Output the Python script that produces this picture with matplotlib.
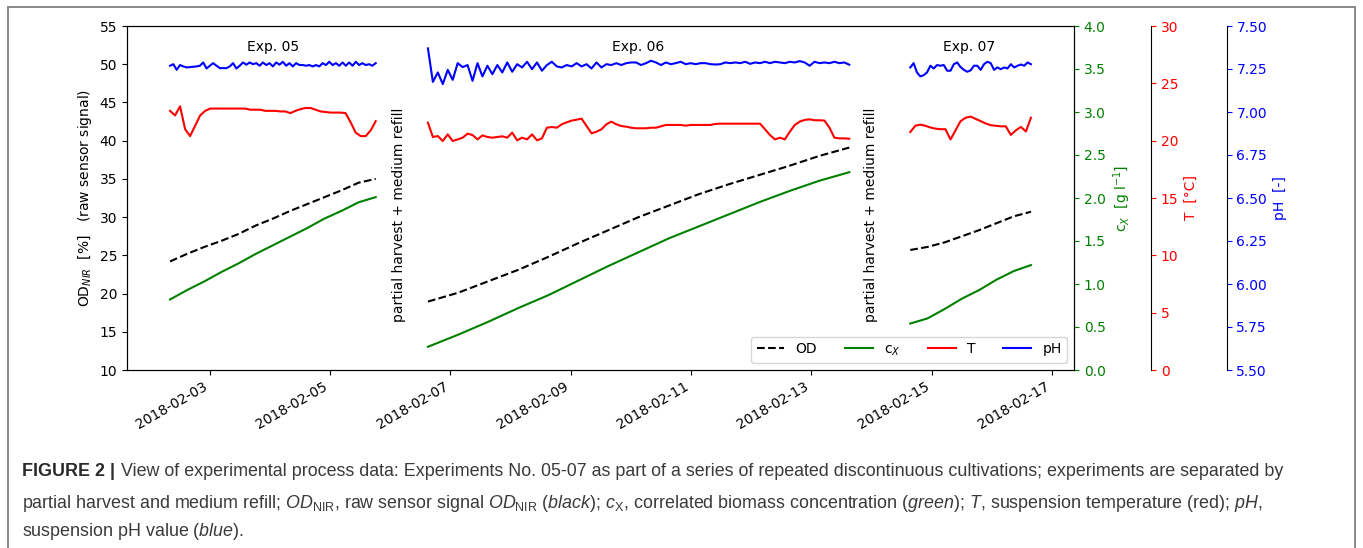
import numpy as np
import pandas as pd
import matplotlib
matplotlib.use('Agg')
import matplotlib.pyplot as plt
import matplotlib.dates as mdates
from matplotlib.patches import Rectangle
from matplotlib.ticker import FormatStrFormatter
from matplotlib.lines import Line2D

plt.rcParams['font.family'] = ['DejaVu Sans']
plt.rcParams['font.size'] = 10
plt.rcParams['mathtext.rm'] = 'Liberation Sans'
plt.rcParams['mathtext.it'] = 'Liberation Sans:italic'
plt.rcParams['mathtext.bf'] = 'Liberation Sans:bold'

# ---------------- data ----------------
exp_names = ['Exp. 05', 'Exp. 06', 'Exp. 07']
exp_start = ['2018-02-02 08:05', '2018-02-06 15:00', '2018-02-14 15:30']
exp_end = ['2018-02-05 18:10', '2018-02-13 15:10', '2018-02-16 15:40']
exp_label_time = ['2018-02-04 01:00', '2018-02-10 03:00', '2018-02-15 15:00']
refill_time = ['2018-02-06 03:20', '2018-02-14 00:00']
tick_dates = ['2018-02-03', '2018-02-05', '2018-02-07', '2018-02-09',
              '2018-02-11', '2018-02-13', '2018-02-15', '2018-02-17']

# OD_NIR raw sensor signal [%]
od_05 = [24.2, 25.2, 26.1, 26.9, 27.8, 28.9, 29.8, 30.8, 31.7, 32.6, 33.5, 34.5, 35.0]
od_06 = [18.95, 20.1, 21.6, 23.1, 24.8, 26.6, 28.3, 30.0, 31.5, 33.0, 34.3, 35.5,
         36.7, 38.0, 39.1]
od_07 = [25.7, 26.1, 26.7, 27.5, 28.3, 29.2, 30.1, 30.7]

# biomass concentration c_X [g/l]
cx_05 = [0.82, 0.93, 1.03, 1.14, 1.24, 1.35, 1.45, 1.55, 1.65, 1.76, 1.85, 1.95, 2.01]
cx_06 = [0.27, 0.41, 0.56, 0.72, 0.87, 1.04, 1.21, 1.37, 1.53, 1.67, 1.81, 1.95,
         2.08, 2.20, 2.30]
cx_07 = [0.54, 0.60, 0.71, 0.83, 0.93, 1.05, 1.15, 1.22]

# temperature T [degC]
t_05 = [22.6, 22.2, 23.0, 21.0, 20.4, 21.3, 22.2, 22.6, 22.8, 22.8,
        22.8, 22.8, 22.8, 22.8, 22.8, 22.8, 22.7, 22.7, 22.7, 22.6,
        22.6, 22.6, 22.55, 22.55, 22.4, 22.6, 22.75, 22.85, 22.85, 22.7,
        22.55, 22.5, 22.45, 22.45, 22.45, 22.4, 21.6, 20.7, 20.4, 20.4,
        20.9, 21.7]
t_06 = [21.57, 20.32, 20.40, 19.97, 20.55, 19.97, 20.11, 20.26, 20.61, 20.49,
        20.11, 20.46, 20.32, 20.26, 20.32, 20.38, 20.26, 20.70, 20.03, 20.26,
        20.11, 20.55, 20.03, 20.20, 21.13, 21.19, 21.13, 21.43, 21.60, 21.75,
        21.83, 21.92, 21.28, 20.64, 20.78, 20.99, 21.43, 21.66, 21.43, 21.28,
        21.22, 21.13, 21.08, 21.08, 21.08, 21.13, 21.13, 21.25, 21.37, 21.37,
        21.37, 21.37, 21.31, 21.37, 21.37, 21.37, 21.37, 21.37, 21.46, 21.48,
        21.48, 21.48, 21.48, 21.48, 21.48, 21.48, 21.48, 21.48, 20.99, 20.49,
        20.11, 20.26, 20.11, 20.78, 21.37, 21.66, 21.81, 21.86, 21.78, 21.78,
        21.75, 21.13, 20.26, 20.20, 20.20, 20.17]
t_07 = [20.75, 21.3, 21.4, 21.3, 21.15, 21.05, 21.0, 21.0, 20.1, 20.9,
        21.7, 22.0, 22.1, 21.9, 21.7, 21.5, 21.35, 21.3, 21.25, 21.25,
        20.5, 20.9, 21.2, 20.8, 22.0]

# pH [-]
ph_05 = [7.269, 7.278, 7.245, 7.273, 7.265, 7.259, 7.261, 7.263, 7.265, 7.269,
         7.288, 7.253, 7.269, 7.284, 7.269, 7.255, 7.255, 7.255, 7.265, 7.284,
         7.253, 7.269, 7.288, 7.275, 7.288, 7.278, 7.284, 7.269, 7.288, 7.273,
         7.284, 7.265, 7.288, 7.275, 7.292, 7.269, 7.284, 7.265, 7.284, 7.273,
         7.273, 7.269, 7.273, 7.265, 7.273, 7.265, 7.284, 7.273, 7.292, 7.273,
         7.284, 7.269, 7.288, 7.269, 7.288, 7.269, 7.292, 7.273, 7.284, 7.273,
         7.278, 7.269, 7.284]
ph_06 = [7.370, 7.175, 7.230, 7.162, 7.245, 7.187, 7.284, 7.261, 7.273, 7.181,
         7.284, 7.207, 7.269, 7.220, 7.273, 7.230, 7.288, 7.234, 7.278, 7.259,
         7.292, 7.249, 7.288, 7.240, 7.273, 7.292, 7.265, 7.259, 7.273, 7.265,
         7.284, 7.265, 7.278, 7.253, 7.288, 7.259, 7.278, 7.273, 7.284, 7.273,
         7.284, 7.288, 7.288,
         7.273, 7.284, 7.298, 7.288, 7.273, 7.288, 7.278, 7.284, 7.292, 7.278,
         7.284, 7.278, 7.284, 7.284, 7.278, 7.276, 7.278, 7.288, 7.284, 7.288,
         7.284, 7.292, 7.280, 7.288, 7.284, 7.292, 7.284, 7.292, 7.288, 7.284,
         7.292, 7.288, 7.296, 7.288, 7.269, 7.292, 7.284, 7.288, 7.284, 7.292,
         7.284, 7.288, 7.275]
ph_07 = [7.259, 7.284, 7.230, 7.207, 7.214, 7.230, 7.269, 7.253, 7.273, 7.269,
         7.273, 7.240, 7.240, 7.278, 7.288, 7.261, 7.245, 7.234, 7.242, 7.269,
         7.269, 7.245, 7.278, 7.292, 7.284, 7.245, 7.259, 7.249, 7.259, 7.253,
         7.278, 7.259, 7.269, 7.276, 7.269, 7.288, 7.278]

od_series = [od_05, od_06, od_07]
cx_series = [cx_05, cx_06, cx_07]
t_series = [t_05, t_06, t_07]
ph_series = [ph_05, ph_06, ph_07]

caption_bold = 'FIGURE 2 |'
caption_1 = ('View of experimental process data: Experiments No. 05-07 as part of a series of '
             'repeated discontinuous cultivations; experiments are separated by')
caption_2 = (r'partial harvest and medium refill; $\mathit{OD}_{\mathrm{NIR}}$, raw sensor signal '
             r'$\mathit{OD}_{\mathrm{NIR}}$ ($\mathit{black}$); $\mathrm{\mathit{c}}_{\mathrm{X}}$, '
             r'correlated biomass concentration ($\mathit{green}$); $\mathit{T}$, suspension '
             r'temperature (red); $\mathit{pH}$,')
caption_3 = r'suspension pH value ($\mathit{blue}$).'

# ---------------- figure ----------------
W, H = 1363, 548
fig = plt.figure(figsize=(W / 100, H / 100), dpi=100)
ax = fig.add_axes([127 / W, 1 - 370 / H, (1074 - 127) / W, (370 - 26) / H])
ax_c = ax.twinx()
ax_t = ax.twinx()
ax_p = ax.twinx()


def grid(i, n):
    return pd.date_range(exp_start[i], exp_end[i], periods=n)


for i in range(3):
    ax.plot(grid(i, len(od_series[i])), od_series[i], 'k--', lw=1.5)
    ax_c.plot(grid(i, len(cx_series[i])), cx_series[i], color='green', lw=1.5)
    ax_t.plot(grid(i, len(t_series[i])), t_series[i], color='red', lw=1.5)
    ax_p.plot(grid(i, len(ph_series[i])), ph_series[i], color='blue', lw=1.5)

# main axis
ax.set_ylim(10, 55)
ax.set_yticks(np.arange(10, 56, 5))
ax.set_ylabel(r'OD$_{NIR}$  [%]   (raw sensor signal)')
ax.set_xticks(pd.to_datetime(tick_dates))
ax.xaxis.set_major_formatter(mdates.DateFormatter('%Y-%m-%d'))
plt.setp(ax.get_xticklabels(), rotation=30, ha='right')

# c_X axis
ax_c.set_ylim(0, 4)
ax_c.set_yticks(np.arange(0, 4.01, 0.5))
ax_c.yaxis.set_major_formatter(FormatStrFormatter('%.1f'))
ax_c.tick_params(axis='y', colors='green')
ax_c.set_ylabel(r'c$_X$  [g l$^{-1}$]', color='green')

# T axis
ax_t.set_ylim(0, 30)
ax_t.set_yticks(np.arange(0, 31, 5))
ax_t.tick_params(axis='y', colors='red')
ax_t.set_ylabel('T  [°C]', color='red')
ax_t.spines['right'].set_position(('axes', 1.0813))

# pH axis
ax_p.set_ylim(5.5, 7.5)
ax_p.set_yticks(np.arange(5.5, 7.51, 0.25))
ax_p.yaxis.set_major_formatter(FormatStrFormatter('%.2f'))
ax_p.tick_params(axis='y', colors='blue')
ax_p.set_ylabel('pH  [-]', color='blue')
ax_p.spines['right'].set_position(('axes', 1.1612))

for a in (ax_t, ax_p):
    a.patch.set_visible(False)
    for s in ('left', 'top', 'bottom'):
        a.spines[s].set_visible(False)

# annotations
for name, tt in zip(exp_names, exp_label_time):
    ax.text(pd.Timestamp(tt), 52.2, name, ha='center', va='center', fontsize=10)
for tt in refill_time:
    ax.text(pd.Timestamp(tt), 30.3, 'partial harvest + medium refill', rotation=90,
            ha='center', va='center', fontsize=10)

handles = [Line2D([], [], color='k', ls='--', lw=1.5),
           Line2D([], [], color='green', lw=1.5),
           Line2D([], [], color='red', lw=1.5),
           Line2D([], [], color='blue', lw=1.5)]
ax_p.legend(handles, ['OD', r'c$_X$', 'T', 'pH'], loc='lower right', ncol=4, fontsize=10)

# figure frame
fig.patches.append(Rectangle((8 / W, -0.05), (1355 - 8) / W, 0.05 + 1 - 7 / H,
                             transform=fig.transFigure, fill=False,
                             edgecolor='#808080', lw=1.3, clip_on=False))

# caption
cap_fs = 12.9
cap_col = '#3a3a3a'
cb = fig.text(22 / W, 1 - 480 / H, caption_bold, fontsize=cap_fs, fontweight='bold',
              family='Liberation Sans', color='#2a2a2a', va='bottom')
ax.annotate(caption_1, xy=(1, 0), xycoords=cb, xytext=(4, 0), textcoords='offset points',
            fontsize=cap_fs, family='Liberation Sans', color=cap_col, va='bottom', ha='left',
            annotation_clip=False)
fig.text(22 / W, 1 - 507.5 / H, caption_2, fontsize=cap_fs, family='Liberation Sans',
         color=cap_col, va='baseline', math_fontfamily='custom')
fig.text(22 / W, 1 - 536 / H, caption_3, fontsize=cap_fs, family='Liberation Sans',
         color=cap_col, va='baseline', math_fontfamily='custom')

fig.savefig('out.png', dpi=100)
